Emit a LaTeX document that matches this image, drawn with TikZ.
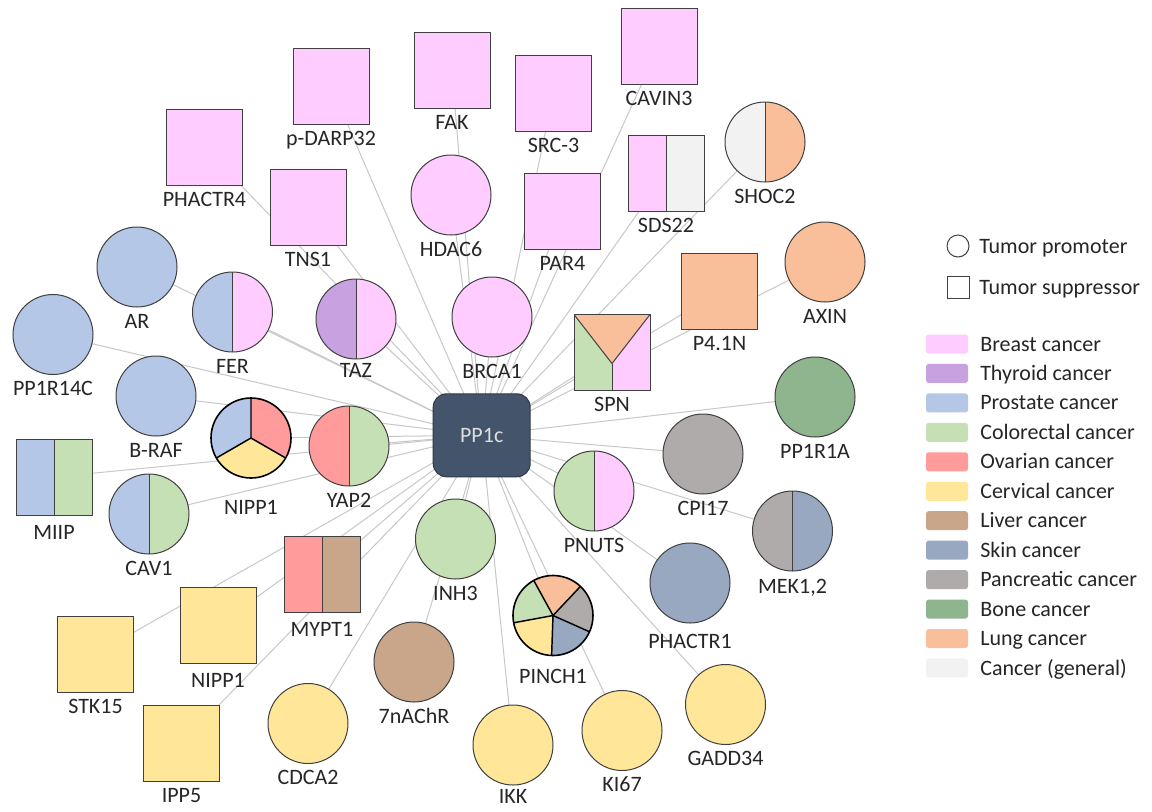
\documentclass[tikz,border=0pt]{standalone}
\usepackage{fontspec}
\setmainfont{Carlito}
\usetikzlibrary{calc}
\pgfdeclarelayer{bg}
\pgfsetlayers{bg,main}
\definecolor{breast}{RGB}{255,204,255}
\definecolor{thyroid}{RGB}{200,162,224}
\definecolor{prostate}{RGB}{180,199,231}
\definecolor{colorectal}{RGB}{197,224,180}
\definecolor{ovarian}{RGB}{255,155,155}
\definecolor{cervical}{RGB}{255,230,153}
\definecolor{liver}{RGB}{201,166,138}
\definecolor{skin}{RGB}{151,168,192}
\definecolor{pancreatic}{RGB}{175,171,171}
\definecolor{bone}{RGB}{143,181,143}
\definecolor{lung}{RGB}{248,191,154}
\definecolor{general}{RGB}{242,242,242}
\definecolor{bord}{RGB}{64,64,64}
\definecolor{txt}{RGB}{38,38,38}
\definecolor{edgecol}{RGB}{200,200,200}
\definecolor{ppfill}{RGB}{68,84,106}
\tikzset{
  base/.style={draw=bord, line width=0.75pt, inner sep=0pt, outer sep=0pt},
  prom/.style={base, circle, minimum size=60pt},
  supp/.style={base, rectangle, minimum size=57pt},
  lbl/.style={text=txt, inner sep=0pt, text height=10.6pt, text depth=0pt},
  lab/.style={label={[lbl,label distance=5pt]below:#1}},
  labd/.style 2 args={label={[lbl,label distance=#1]below:#2}},
  two/.style 2 args={path picture={
    \fill[#1] (path picture bounding box.south west) rectangle (path picture bounding box.north);
    \fill[#2] (path picture bounding box.south) rectangle (path picture bounding box.north east);
    \draw[bord, line width=0.75pt] (path picture bounding box.south) -- (path picture bounding box.north);}},
  one/.style={fill=#1},
  edge/.style={draw=edgecol, line width=0.75pt},
  sw/.style={rectangle, rounded corners=2pt, minimum width=31.5pt, minimum height=14.25pt, inner sep=0pt},
  lgt/.style={text=txt, anchor=west, inner sep=0pt, text height=10.6pt, text depth=0pt},
}
\begin{document}
\begin{tikzpicture}[x=0.75pt,y=-0.75pt, font=\fontsize{16.5}{19}\selectfont]
\useasboundingbox (0,0) rectangle (1152,811);

% centre
\node[draw={rgb,255:red,47;green,59;blue,76}, line width=0.75pt, fill=ppfill, rounded corners=10pt,
      minimum width=72.75pt, minimum height=62.25pt, inner sep=0pt, text={rgb,255:red,222;green,222;blue,222}]
      (pp) at (481.7,435.3) {PP1c};

% tumour suppressors (squares)
\node[supp, one=breast, lab=PHACTR4] (phactr4) at (204.5,147.5) {};
\node[supp, one=breast, lab=p-DARP32] (pdarp) at (331,86) {};
\node[supp, one=breast, lab=FAK] (fak) at (452,70) {};
\node[supp, one=breast, lab=SRC-3] (src3) at (553.5,93.5) {};
\node[supp, one=breast, lab=CAVIN3] (cavin3) at (659,46) {};
\node[supp, one=breast, lab=TNS1] (tns1) at (308,207) {};
\node[supp, one=breast, lab=PAR4] (par4) at (562.5,211.5) {};
\node[supp, two={breast}{general}, lab=SDS22] (sds22) at (666,173) {};
\node[supp, one=lung, lab=P4.1N] (p41n) at (719.5,291.5) {};
\node[supp, lab=SPN, path picture={
   \coordinate (apx) at ($(path picture bounding box.center)+(0,-8.25pt)$);
   \fill[lung] (path picture bounding box.north west) -- (path picture bounding box.north east) -- (apx) -- cycle;
   \fill[colorectal] (path picture bounding box.north west) -- (apx) -- (path picture bounding box.south) -- (path picture bounding box.south west) -- cycle;
   \fill[breast] (apx) -- (path picture bounding box.north east) -- (path picture bounding box.south east) -- (path picture bounding box.south) -- cycle;
   \draw[bord, line width=0.75pt] (path picture bounding box.north west) -- (apx) -- (path picture bounding box.north east);
   \draw[bord, line width=0.75pt] (apx) -- (path picture bounding box.south);}] (spn) at (612,352.5) {};
\node[supp, two={prostate}{colorectal}, labd={7.4pt}{MIIP}] (miip) at (54,477) {};
\node[supp, two={ovarian}{liver}, labd={7.4pt}{MYPT1}] (mypt1) at (322,574) {};
\node[supp, one=cervical, labd={7.4pt}{NIPP1}] (nipp1s) at (218,625) {};
\node[supp, one=cervical, lab=STK15] (stk15) at (95.5,654) {};
\node[supp, one=cervical, lab=IPP5] (ipp5) at (181.5,743.5) {};

% tumour promoters (circles)
\node[prom, two={general}{lung}, lab=SHOC2] (shoc2) at (765,142) {};
\node[prom, one=breast, lab=HDAC6] (hdac6) at (451,195) {};
\node[prom, one=prostate, lab=AR] (ar) at (137,267) {};
\node[prom, two={prostate}{breast}, lab=FER] (fer) at (232.5,312) {};
\node[prom, two={thyroid}{breast}, labd={3pt}{TAZ}] (taz) at (356,319) {};
\node[prom, one=breast, lab=BRCA1] (brca1) at (492,317) {};
\node[prom, one=prostate, lab=PP1R14C] (pp1r14c) at (53,334.5) {};
\node[prom, one=prostate, lab=B-RAF] (braf) at (156,396) {};
\node[prom, draw=black, line width=1.2pt, labd={16.5pt}{NIPP1}, path picture={
   \coordinate (pc) at (path picture bounding box.center);
   \fill[prostate] (pc) -- ++(90:35pt) arc[start angle=90, end angle=210, radius=35pt] -- cycle;
   \fill[cervical] (pc) -- ++(210:35pt) arc[start angle=210, end angle=330, radius=35pt] -- cycle;
   \fill[ovarian] (pc) -- ++(-30:35pt) arc[start angle=-30, end angle=90, radius=35pt] -- cycle;
   \draw[black, line width=1.1pt] (pc) -- ++(90:31pt) (pc) -- ++(210:31pt) (pc) -- ++(-30:31pt);}] (nipp1p) at (251,438) {};
\node[prom, two={ovarian}{colorectal}, lab=YAP2] (yap2) at (349,446) {};
\node[prom, two={prostate}{colorectal}, lab=CAV1] (cav1) at (149,514) {};
\node[prom, one=cervical, lab=CDCA2] (cdca2) at (308,723.5) {};
\node[prom, one=liver, lab=7nAChR] (nachr) at (414,662) {};
\node[prom, one=colorectal, lab=INH3] (inh3) at (455.5,539) {};
\node[prom, draw=black, line width=1.2pt, labd={10.4pt}{PINCH1}, path picture={
   \coordinate (pc) at (path picture bounding box.center);
   \fill[lung] (pc) -- ++(46.7:35pt) arc[start angle=46.7, end angle=118.8, radius=35pt] -- cycle;
   \fill[colorectal] (pc) -- ++(118.8:35pt) arc[start angle=118.8, end angle=190.5, radius=35pt] -- cycle;
   \fill[cervical] (pc) -- ++(190.5:35pt) arc[start angle=190.5, end angle=268, radius=35pt] -- cycle;
   \fill[skin] (pc) -- ++(268:35pt) arc[start angle=268, end angle=336, radius=35pt] -- cycle;
   \fill[pancreatic] (pc) -- ++(336:35pt) arc[start angle=336, end angle=406.7, radius=35pt] -- cycle;
   \draw[black, line width=1.1pt] (pc) -- ++(46.7:31pt) (pc) -- ++(118.8:31pt) (pc) -- ++(190.5:31pt)
        (pc) -- ++(268:31pt) (pc) -- ++(336:31pt);}] (pinch1) at (553,615.5) {};
\node[prom, one=cervical, labd={3pt}{IKK}] (ikk) at (513,745) {};
\node[prom, one=cervical, lab=KI67] (ki67) at (622,730.5) {};
\node[prom, one=cervical, lab=GADD34] (gadd34) at (725.5,704.5) {};
\node[prom, one=skin, labd={8.2pt}{PHACTR1}] (phactr1) at (690,583) {};
\node[prom, two={colorectal}{breast}, lab=PNUTS] (pnuts) at (594,491) {};
\node[prom, one=pancreatic, lab=CPI17] (cpi17) at (703,454) {};
\node[prom, two={pancreatic}{skin}, labd={6pt}{MEK1,2}] (mek) at (792.5,531) {};
\node[prom, one=bone, lab=PP1R1A] (pp1r1a) at (815,397) {};
\node[prom, one=lung, lab=AXIN] (axin) at (825,262) {};

% connectors
\begin{pgfonlayer}{bg}
\fill[white] (0,0) rectangle (1152,811);
\foreach \n in {phactr4,pdarp,fak,src3,cavin3,tns1,par4,sds22,p41n,spn,miip,mypt1,nipp1s,stk15,ipp5,
                shoc2,hdac6,ar,fer,taz,brca1,pp1r14c,braf,nipp1p,yap2,cav1,cdca2,nachr,inh3,pinch1,
                ikk,ki67,gadd34,phactr1,pnuts,cpi17,mek,pp1r1a,axin}
  \draw[edge] (pp.center) -- (\n.center);
\end{pgfonlayer}

% legend
\node[base, circle, minimum size=16.5pt] (lprom) at (958,246) {};
\node[lgt] (lpromt) at (979,246) {Tumor promoter};
\node[base, rectangle, minimum size=16.5pt] (lsupp) at (958,287) {};
\node[lgt] (lsuppt) at (979,287) {Tumor suppressor};
\foreach \c/\t [count=\i from 0] in {breast/Breast cancer, thyroid/Thyroid cancer, prostate/Prostate cancer,
     colorectal/Colorectal cancer, ovarian/Ovarian cancer, cervical/Cervical cancer, liver/Liver cancer,
     skin/Skin cancer, pancreatic/Pancreatic cancer, bone/Bone cancer, lung/Lung cancer, general/Cancer (general)}{
  \node[sw, fill=\c] (sw\i) at (947,{344+29.45*\i}) {};
  \node[lgt] (swt\i) at (980,{344+29.45*\i}) {\t};
}
\end{tikzpicture}
\end{document}
